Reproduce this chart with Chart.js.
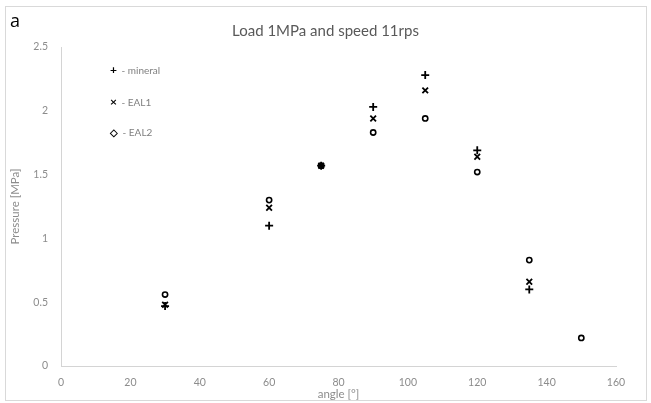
<!DOCTYPE html>
<html>
<head>
<meta charset="utf-8">
<script src="https://cdn.jsdelivr.net/npm/chart.js@4.4.1/dist/chart.umd.min.js"></script>
<style>
  html, body { margin: 0; padding: 0; background: #fff; }
  #wrap { position: relative; width: 651px; height: 403px; font-family: Lato, "Open Sans", sans-serif; }
  #frame { position: absolute; left: 5px; top: 6px; width: 640px; height: 393px; border: 1px solid #d9d9d9; pointer-events: none; }
  #lbl { position: absolute; left: 10px; top: 8px; font-size: 18px; color: #000; font-family: "Open Sans", sans-serif; }
  #title { position: absolute; left: 0; width: 651px; top: 21px; text-align: center; font-size: 15px; color: #595959; }
  .leg { position: absolute; left: 110px; font-size: 10px; color: #7f7f7f; }
  .leg b { color: #000; font-weight: bold; font-size: 12px; margin-right: 2px; }
</style>
</head>
<body>
<div id="wrap">
  <canvas id="c" width="651" height="403"></canvas>
  <div id="frame"></div>
  <div id="lbl">a</div>
  <div id="title">Load 1MPa and speed 11rps</div>
  <div class="leg" style="top:62px"><b>+</b> - mineral</div>
  <div class="leg" style="top:94px"><b>×</b> - EAL1</div>
  <div class="leg" style="top:126px"><b style="font-size:10px">◇</b> - EAL2</div>
</div>
<script>
const anglesMineral = [30, 60, 75, 90, 105, 120, 135];
const mineral      = [0.47, 1.10, 1.57, 2.03, 2.28, 1.69, 0.60];
const anglesEAL1   = [30, 60, 75, 90, 105, 120, 135];
const eal1         = [0.48, 1.24, 1.57, 1.94, 2.16, 1.64, 0.66];
const anglesEAL2   = [30, 60, 75, 90, 105, 120, 135, 150];
const eal2         = [0.56, 1.30, 1.57, 1.83, 1.94, 1.52, 0.83, 0.22];
const xTicks = [0, 20, 40, 60, 80, 100, 120, 140, 160];
const yTicks = [0, 0.5, 1, 1.5, 2, 2.5];

const pts = (xs, ys) => xs.map((x, i) => ({ x: x, y: ys[i] }));

new Chart(document.getElementById('c'), {
  type: 'scatter',
  data: {
    datasets: [
      { label: 'mineral', data: pts(anglesMineral, mineral), pointStyle: 'cross', pointRadius: 4, borderColor: '#000', borderWidth: 1.8, backgroundColor: '#000' },
      { label: 'EAL1', data: pts(anglesEAL1, eal1), pointStyle: 'crossRot', pointRadius: 4, borderColor: '#000', borderWidth: 1.8, backgroundColor: '#000' },
      { label: 'EAL2', data: pts(anglesEAL2, eal2), pointStyle: 'circle', pointRadius: 2.6, borderColor: '#000', borderWidth: 1.6, backgroundColor: '#fff' }
    ]
  },
  options: {
    responsive: false,
    animation: false,
    layout: { padding: { left: 8, right: 35, top: 47, bottom: 2 } },
    plugins: { legend: { display: false }, title: { display: false }, tooltip: { enabled: false } },
    scales: {
      x: {
        type: 'linear', min: 0, max: 160,
        afterBuildTicks: s => { s.ticks = xTicks.map(v => ({ value: v })); },
        afterFit: s => { s.height = 35; },
        grid: { color: 'transparent', drawTicks: false },
        border: { display: true, color: '#d4d4d4', width: 1 },
        ticks: { padding: 10, color: '#8c8c8c', font: { family: 'Lato', size: 10.5 }, callback: v => String(v) },
        title: { display: true, text: 'angle [°]', color: '#8c8c8c', font: { family: 'Lato', size: 11.5 }, padding: { top: 0, bottom: 0 } }
      },
      y: {
        type: 'linear', min: 0, max: 2.5,
        afterBuildTicks: s => { s.ticks = yTicks.map(v => ({ value: v })); },
        afterFit: s => { s.width = 53; },
        grid: { color: 'transparent', drawTicks: false },
        border: { display: true, color: '#d4d4d4', width: 1 },
        ticks: { padding: 13, color: '#8c8c8c', font: { family: 'Lato', size: 10.5 }, callback: v => String(v) },
        title: { display: true, text: 'Pressure [MPa]', color: '#8c8c8c', font: { family: 'Lato', size: 11.5 }, padding: { top: 0, bottom: 0 } }
      }
    }
  }
});
</script>
</body>
</html>
